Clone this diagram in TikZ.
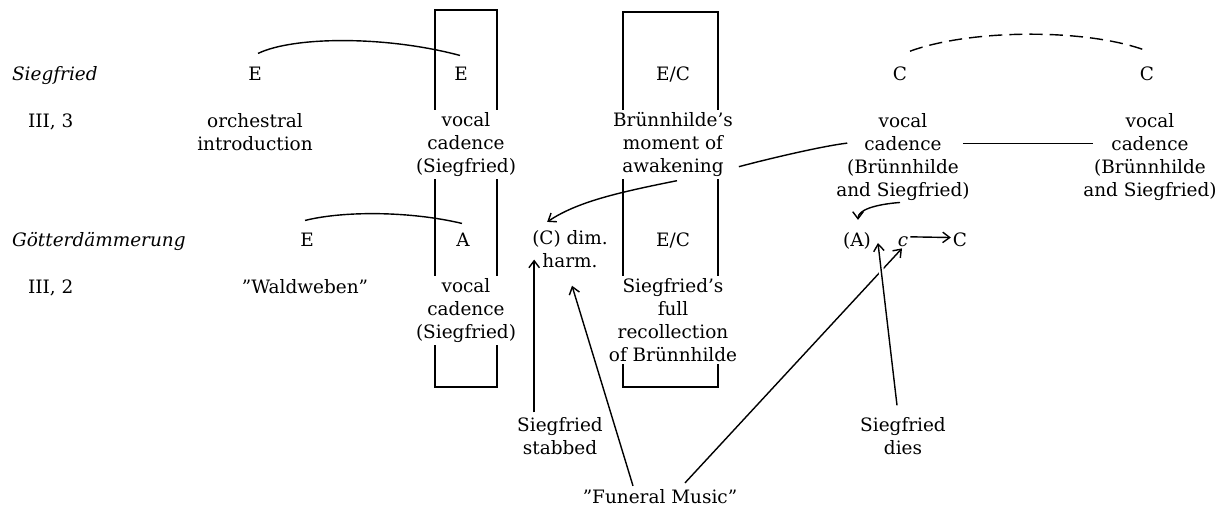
\documentclass[tikz,border=0pt]{standalone}
\usepackage{fontspec}
\setmainfont{DejaVu Serif}
\usetikzlibrary{arrows.meta, calc}

\begin{document}
\begin{tikzpicture}[
      x=0.02cm, y=-0.02cm,
      every node/.style={font=\fontsize{10.5}{13}\selectfont},
      key/.style={inner sep=1pt, anchor=base},
      txt/.style={align=center, inner sep=1pt, anchor=north},
      cut/.style={txt, fill=white, inner sep=1.5pt},
      tie/.style={line width=0.8pt},
      box/.style={line width=0.9pt},
      arrow/.style={-{Straight Barb[length=4pt, width=6pt]}, line width=0.8pt}
    ]
    \useasboundingbox (0,0) rectangle (1224,508);

    \draw[box] (435,10) rectangle (497,387);
    \draw[box] (623,12) rectangle (718,387);

    \node[key, anchor=base west] (sieg) at (10,80) {\textit{Siegfried}};
    \node[key, anchor=base west] (act3) at (26,127) {III, 3};
    \node[key, anchor=base west] (gott) at (10,246) {\textit{Götterdämmerung}};
    \node[key, anchor=base west] (act2) at (26,293) {III, 2};

    \node[key] (e1) at (255,80) {E};
    \node[key] (e2) at (461,80) {E};
    \node[key] (ec1) at (673,80) {E/C};
    \node[key] (c1) at (900,80) {C};
    \node[key] (c2) at (1147,80) {C};

    \node[txt] (intro) at (255,111.6) {orchestral\\introduction};
    \node[cut] (vcs1) at (466,109.8) {vocal\\cadence\\(Siegfried)};
    \node[cut] (wake) at (673,109.8) {Brünnhilde's\\moment of\\awakening};
    \node[txt] (vcl) at (903,111.6) {vocal\\cadence\\(Brünnhilde\\and Siegfried)};
    \node[txt] (vcr) at (1150,111.6) {vocal\\cadence\\(Brünnhilde\\and Siegfried)};

    \node[key] (e3) at (307,246) {E};
    \node[key] (aa) at (463,246) {A};
    \node[txt] (dim) at (570,228.4) {(C) dim.\\harm.};
    \node[key] (ec2) at (673,246) {E/C};
    \node[key] (pa) at (857,246) {(A)};
    \node[key] (cc) at (903,246) {\textit{c}};
    \node[key] (bigc) at (960,246) {C};

    \node[key] (wald) at (305,293) {''Waldweben''};
    \node[cut] (vcs2) at (466,275.8) {vocal\\cadence\\(Siegfried)};
    \node[cut] (recol) at (673,275.5) {Siegfried's\\full\\recollection\\of Brünnhilde};

    \node[txt] (stab) at (560,415.3) {Siegfried\\stabbed};
    \node[txt] (dies) at (903,415.3) {Siegfried\\dies};
    \node[key] (fun) at (660,503) {''Funeral Music''};

    \draw[tie] ([shift={(3,-11)}]e1.north) .. controls +(35,-17) and +(-75,-20) .. ([shift={(-1,-9)}]e2.north);
    \draw[tie] ([shift={(-2,-10)}]e3.north) .. controls +(40,-10) and +(-50,-12) .. ([shift={(-1,-7)}]aa.north);
    \draw[tie, dash pattern=on 7.5pt off 4pt] ([shift={(10,-13)}]c1.north) .. controls +(60,-22) and +(-60,-22) .. ([shift={(-2,-14)}]c2.north);

    \draw[tie] ([shift={(3,-13)}]wake.south east) .. controls +(30,-8) and +(-25,3) .. ([shift={(13,31.5)}]vcl.north west);
    \draw[tie] ([shift={(-9,-13.5)}]vcl.east) -- ([shift={(12,-13.5)}]vcr.west);

    \draw[arrow] ([shift={(4,1)}]wake.south) .. controls +(-60,12) and +(30,-20) .. ([shift={(17,-6.5)}]dim.north west);
    \draw[arrow] ([shift={(-3,0)}]vcl.south) .. controls +(-25,2) and +(0,-10) .. ([shift={(1,-10)}]pa.north);
    \draw[arrow] ([yshift=2.5pt]cc.east) -- ([yshift=1pt]bigc.west);

    \draw[arrow] ($(dim.west |- stab.north)+(4,-3)$) -- ([shift={(4,10.5)}]dim.west);
    \draw[arrow] ([shift={(-27,-1)}]fun.north) -- ([shift={(2,16)}]dim.south);
    \draw[arrow] ([shift={(25,-4)}]fun.north) -- ([shift={(-1,0)}]cc.south);
    \draw[arrow, preaction={draw=white, line width=3pt, -, shorten >=10pt}] ([shift={(-6,-10)}]dies.north) -- ([shift={(5,-8)}]pa.south east);
\end{tikzpicture}
\end{document}
